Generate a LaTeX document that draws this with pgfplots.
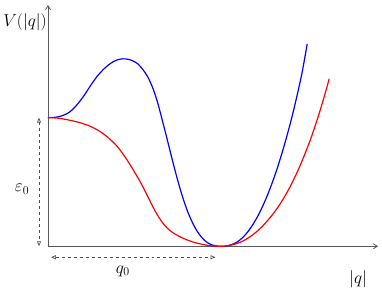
\documentclass[border=0pt]{standalone}
\usepackage{pgfplots}
\pgfplotsset{compat=1.18}
\usetikzlibrary{arrows.meta}
\begin{document}
\begin{tikzpicture}
\begin{axis}[
  x=1pt, y=1pt,
  xmin=0, xmax=331, ymin=0, ymax=242,
  axis lines=left,
  axis line style={draw=black!65, line width=0.8pt, -{Straight Barb[length=4pt,width=5pt]}},
  xtick=\empty, ytick=\empty,
  clip=false,
]
\path (axis cs:-47,-43) rectangle (axis cs:335,247);
\addplot[blue, line width=1.2pt, smooth] coordinates {
 (0,129) (5,129.2) (10,129.8) (15,131.2) (20,133.5) (25,137.5) (30,143) (35,149.5)
 (40,157) (45,164.5) (50,171.3) (55,176.8) (60,181.3) (65,184.8) (70,187.1) (75,188)
 (80,187.6) (85,186) (90,183) (95,177.5) (100,170) (105,159) (110,144) (115,125)
 (120,105.5) (125,85.5) (130,66.5) (135,49.5) (140,35) (145,23.5) (150,14.5)
 (155,8) (160,3.6) (165,1.2) (170,0.2) (175,0) (180,0.5) (185,2) (190,4.5)
 (195,8.5) (200,14) (205,21) (210,29.5) (215,39.5) (220,51) (225,64) (230,78.5)
 (235,94.5) (240,112) (245,131) (250,152) (255,175) (260,203)};
\addplot[red, line width=1.2pt, smooth] coordinates {
 (0,129) (10,128.5) (20,126.8) (30,124.5) (40,121.3) (50,116.5) (60,109.3)
 (70,99.5) (80,85.5) (90,69) (95,60) (100,50) (105,40) (110,31) (115,23.5)
 (120,17.8) (125,13.8) (130,10.8) (135,8.3) (140,6.2) (145,4.4) (150,3)
 (155,1.9) (160,1) (165,0.4) (170,0.05) (175,0) (180,0.5) (185,1.5) (190,3)
 (195,5) (200,7.8) (205,11.2) (210,15.3) (215,20) (220,25.5) (225,31.5)
 (230,38.3) (235,46) (240,54.5) (245,64) (250,74.5) (255,86) (260,98.5)
 (265,112) (270,127) (275,143) (280,160.5) (282,168)};
\draw[black!70, dashed, line width=0.7pt, {Triangle[open,length=5pt,width=4pt]}-{Triangle[open,length=5pt,width=4pt]}]
  (axis cs:-9,129) -- (axis cs:-9,0);
\draw[black!70, dashed, line width=0.7pt, {Triangle[open,length=5pt,width=4pt]}-{Triangle[open,length=5pt,width=4pt]}]
  (axis cs:3,-11) -- (axis cs:168,-11);
\node[font=\LARGE] at (axis cs:-26,57) {$\varepsilon_0$};
\node[font=\LARGE] at (axis cs:75,-25) {$q_0$};
\node[font=\LARGE] at (axis cs:311,-33) {$|q|$};
\node[font=\LARGE] at (axis cs:-23,225) {$V(|q|)$};
\end{axis}
\end{tikzpicture}
\end{document}
